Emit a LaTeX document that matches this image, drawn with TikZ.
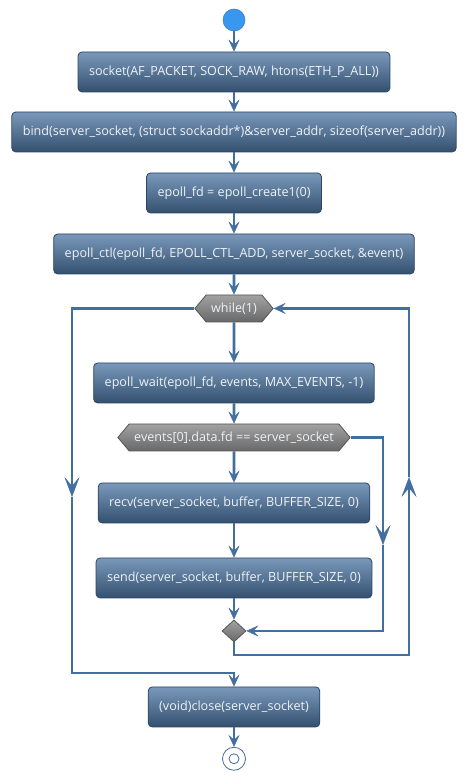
\documentclass[tikz,border=0pt]{standalone}
\usepackage{fontspec}
\setmainfont{Open Sans}
\usetikzlibrary{positioning, shapes.geometric, shapes.symbols, arrows.meta}

\definecolor{flowblue}{HTML}{436EA0}
\definecolor{boxtop}{HTML}{7A98BA}
\definecolor{boxbottom}{HTML}{33506F}
\definecolor{boxedge}{HTML}{2B4565}
\definecolor{condtop}{HTML}{A2A2A2}
\definecolor{condbottom}{HTML}{686868}
\definecolor{condedge}{HTML}{555555}
\definecolor{startblue}{HTML}{3A97F0}
\definecolor{boxtext}{HTML}{EEF2F6}

\begin{document}
\begin{tikzpicture}[x=1pt, y=-1pt, font=\fontsize{12.6}{15}\selectfont,
  box/.style={draw=boxedge, line width=0.8pt, rectangle, rounded corners=4pt,
    top color=boxtop, bottom color=boxbottom, text=boxtext,
    minimum height=40pt, inner xsep=11pt},
  cond/.style={draw=condedge, line width=0.8pt, signal, signal to=east and west,
    signal pointer angle=100, top color=condtop, bottom color=condbottom,
    text=boxtext, minimum height=27pt, inner xsep=5pt, inner ysep=2pt},
  merger/.style={draw=condedge, line width=0.8pt, diamond, top color=condtop,
    bottom color=condbottom, minimum width=24pt, minimum height=22pt, inner sep=0pt},
  line/.style={draw=flowblue, line width=2.6pt},
  flow/.style={line, -{Stealth[length=12pt, width=11pt, inset=5pt, line width=0.3pt]}},
  midflow/.style={line, -{Stealth[length=20pt, width=15pt, inset=9pt, line width=0.3pt]}}]
  \useasboundingbox (0,0) rectangle (467,782);

  \node[circle, fill=startblue, draw=startblue!80!black, line width=0.5pt,
    minimum size=22pt, inner sep=0pt] (start) at (234,20) {};
  \node[box, below=20.3pt of start] (socket) {socket(AF\_PACKET, SOCK\_RAW, htons(ETH\_P\_ALL))};
  \node[box, below=19.2pt of socket] (bind) {bind(server\_socket, (struct sockaddr*)\&server\_addr, sizeof(server\_addr))};
  \node[box, below=20.2pt of bind] (create) {epoll\_fd = epoll\_create1(0)};
  \node[box, below=20.2pt of create] (ctl) {epoll\_ctl(epoll\_fd, EPOLL\_CTL\_ADD, server\_socket, \&event)};
  \node[cond, below=20.2pt of ctl] (while) {while(1)};
  \node[box, below=40.2pt of while] (wait) {epoll\_wait(epoll\_fd, events, MAX\_EVENTS, -1)};
  \node[cond, below=20.2pt of wait] (check) {events[0].data.fd == server\_socket};
  \node[box, below=31.2pt of check] (recv) {recv(server\_socket, buffer, BUFFER\_SIZE, 0)};
  \node[box, below=34.2pt of recv] (send) {send(server\_socket, buffer, BUFFER\_SIZE, 0)};
  \node[merger, below=21.2pt of send] (merge) {};
  \node[box, below=44.2pt of merge] (close) {(void)close(server\_socket)};
  \node[circle, draw=flowblue, fill=white, line width=0.8pt, minimum size=23pt,
    inner sep=0pt, below=19.5pt of close] (stop) {};
  \node[circle, draw=flowblue, line width=0.8pt, minimum size=10pt, inner sep=0pt] (stopdot) at (stop) {};

  % rails of the loops
  \coordinate (leftrail) at (72,0);
  \coordinate (rightrail) at (409,0);
  \coordinate (innerrail) at (383,0);
  \coordinate (leftmid) at (72,497);
  \coordinate (rightmid) at (409,477);
  \coordinate (innermid) at (383,545);
  \coordinate (lowrow) at (0,655);
  \coordinate (exitrow) at (0,673);

  \draw[flow] (start) -- (socket);
  \draw[flow] (socket) -- (bind);
  \draw[flow] (bind) -- (create);
  \draw[flow] (create) -- (ctl);
  \draw[flow] (ctl) -- (while);
  \draw[flow] (while) -- (wait);
  \draw[flow] (wait) -- (check);
  \draw[flow] (check) -- (recv);
  \draw[flow] (recv) -- (send);
  \draw[flow] (send) -- (merge);
  \draw[flow] (close) -- (stop);
  % branch not taken
  \draw[midflow] (check.east) -| (innermid);
  \draw[flow] (innermid) |- (merge.east);
  % back to the loop head
  \draw[midflow] (merge.south) |- (lowrow -| rightrail) -- (rightmid);
  \draw[flow] (rightmid) |- (while.east);
  % leaving the loop
  \draw[midflow] (while.west) -| (leftmid);
  \draw[flow] (leftmid) |- (exitrow -| close) -- (close.north);
\end{tikzpicture}
\end{document}
